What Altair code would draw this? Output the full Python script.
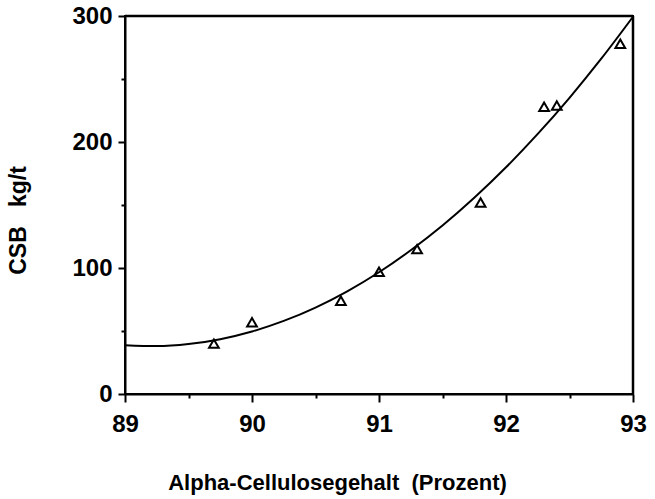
import altair as alt
import pandas as pd

# Measured points (triangles)
pts_x = [89.7, 90.0, 90.7, 91.0, 91.3, 91.8, 92.3, 92.4, 92.9]
pts_y = [40, 57, 74, 97, 115, 152, 228, 229, 278]

# Fitted curve
curve_x = [89.0, 89.25, 89.5, 89.75, 90.0, 90.25, 90.5, 90.75, 91.0, 91.25,
           91.5, 91.75, 92.0, 92.25, 92.5, 92.75, 93.0]
curve_y = [38.7, 38.0, 39.6, 43.5, 49.6, 58.0, 68.6, 81.5, 96.6, 114.1,
           133.7, 155.7, 179.9, 206.4, 235.1, 266.1, 299.4]

x_ticks = [89, 89.5, 90, 90.5, 91, 91.5, 92, 92.5, 93]
y_ticks = [0, 50, 100, 150, 200, 250, 300]

x_title = "Alpha-Cellulosegehalt\u00a0\u00a0(Prozent)"
y_title = "CSB\u00a0\u00a0\u00a0kg/t"

# frame edges (top and right), in data units
frame_top_x = [89, 93]
frame_top_y = [300, 300]
frame_right_x = [93, 93]
frame_right_y = [0, 300]

pts = pd.DataFrame({"x": pts_x, "y": pts_y})
curve = pd.DataFrame({"x": curve_x, "y": curve_y})
frame_df = pd.DataFrame({
    "x": [frame_top_x[0], frame_right_x[0]],
    "x2": [frame_top_x[1], frame_right_x[1]],
    "y": [frame_top_y[0], frame_right_y[0]],
    "y2": [frame_top_y[1], frame_right_y[1]],
})

FONT = "Liberation Sans"
INK = "black"

xscale = alt.Scale(domain=[89, 93], nice=False, zero=False)
yscale = alt.Scale(domain=[0, 300], nice=False)

xaxis = alt.Axis(
    values=x_ticks, grid=False, title=x_title,
    labelExpr="datum.value % 1 === 0 ? format(datum.value, 'd') : ''",
    tickSize={"condition": {"test": "datum.value % 1 === 0", "value": 8}, "value": 4},
    labelPadding=10, labelFontSize=24, labelFont=FONT, labelFontWeight="bold",
    labelColor=INK, tickColor=INK, tickWidth=2, domainColor=INK, domainWidth=2,
    titleFont=FONT, titleFontSize=22, titleFontWeight="bold", titleColor=INK,
    titleX=212, titleY=95, titleBaseline="alphabetic", titleAlign="center",
    labelFlush=False, labelOverlap=False,
)
yaxis = alt.Axis(
    values=y_ticks, grid=False, title=y_title,
    labelExpr="datum.value % 100 === 0 ? format(datum.value, 'd') : ''",
    tickSize={"condition": {"test": "datum.value % 100 === 0", "value": 7}, "value": 4},
    labelPadding=6, labelFontSize=24, labelFont=FONT, labelFontWeight="bold",
    labelColor=INK, tickColor=INK, tickWidth=2, domainColor=INK, domainWidth=2,
    titleFont=FONT, titleFontSize=23, titleFontWeight="bold", titleColor=INK,
    titleX=-100, titleY=204, titleBaseline="alphabetic", titleAlign="center",
    labelFlush=False, labelOverlap=False,
)

frame = alt.Chart(frame_df).mark_rule(color=INK, strokeWidth=2.5, clip=False).encode(
    x=alt.X("x:Q", scale=xscale, axis=xaxis), x2="x2:Q",
    y=alt.Y("y:Q", scale=yscale, axis=yaxis), y2="y2:Q",
)

line = alt.Chart(curve).mark_line(color=INK, strokeWidth=2, interpolate="monotone").encode(
    x=alt.X("x:Q", scale=xscale),
    y=alt.Y("y:Q", scale=yscale),
)

points = alt.Chart(pts).mark_point(
    shape="triangle-up", filled=False, color=INK, strokeWidth=2, size=95, opacity=1
).encode(
    x=alt.X("x:Q", scale=xscale),
    y=alt.Y("y:Q", scale=yscale),
)

chart = alt.layer(frame, line, points).properties(
    width=508, height=378,
    background="white",
    autosize=alt.AutoSizeParams(type="none"),
    padding={"left": 125, "top": 16, "right": 22, "bottom": 105},
).configure_view(stroke=INK, strokeWidth=2)

chart.save("out.html", embed_options={"renderer": "svg", "actions": False})
